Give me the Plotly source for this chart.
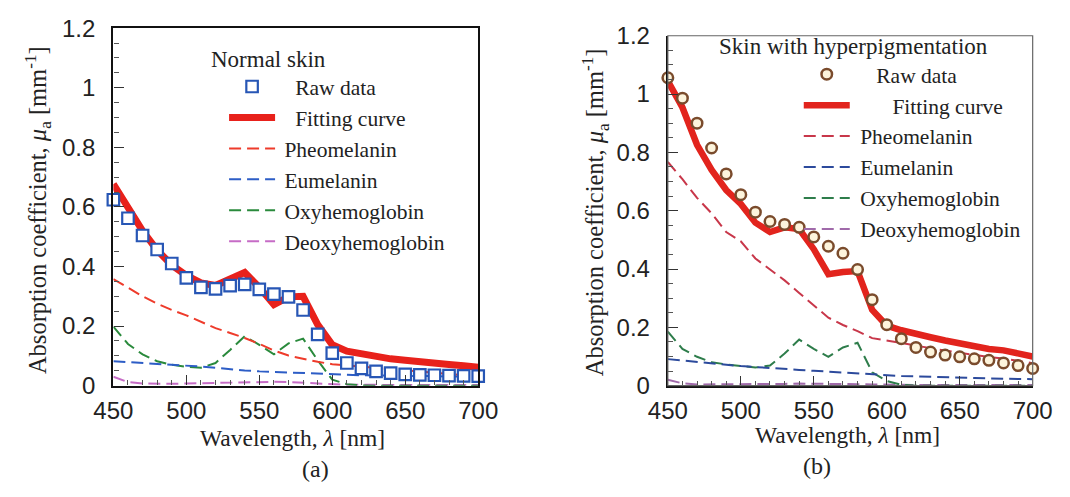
import plotly.graph_objects as go

# ---------------- data ----------------
wavelength = [450, 460, 470, 480, 490, 500, 510, 520, 530, 540, 550, 560, 570,
              580, 590, 600, 610, 620, 630, 640, 650, 660, 670, 680, 690, 700]

# (a) Normal skin
a_raw = [0.624, 0.562, 0.504, 0.457, 0.410, 0.362, 0.330, 0.325, 0.336, 0.340, 0.323, 0.307, 0.298,
         0.254, 0.172, 0.109, 0.076, 0.058, 0.048, 0.042, 0.038, 0.036, 0.035, 0.034, 0.033, 0.032]
a_fit = [0.677, 0.600, 0.520, 0.455, 0.405, 0.370, 0.345, 0.336, 0.360, 0.380, 0.330, 0.272, 0.298,
         0.300, 0.205, 0.137, 0.116, 0.106, 0.098, 0.090, 0.085, 0.079, 0.074, 0.071, 0.067, 0.062]
a_pheo = [0.358, 0.330, 0.300, 0.275, 0.254, 0.236, 0.214, 0.193, 0.177, 0.160, 0.140, 0.118, 0.101,
          0.090, 0.080, 0.072, 0.068, 0.063, 0.059, 0.055, 0.051, 0.047, 0.043, 0.039, 0.035, 0.031]
a_eu = [0.082, 0.079, 0.076, 0.074, 0.071, 0.069, 0.064, 0.060, 0.055, 0.051, 0.048, 0.046, 0.043,
        0.041, 0.039, 0.037, 0.036, 0.035, 0.034, 0.034, 0.033, 0.032, 0.032, 0.031, 0.031, 0.030]
a_oxy = [0.198, 0.140, 0.105, 0.082, 0.070, 0.063, 0.060, 0.076, 0.120, 0.166, 0.137, 0.105, 0.142,
         0.158, 0.085, 0.020, 0.005, 0.001, 0.0, 0.0, 0.0, 0.0, 0.0, 0.0, 0.0, 0.0]
a_deoxy = [0.030, 0.012, 0.007, 0.006, 0.006, 0.007, 0.008, 0.009, 0.011, 0.013, 0.014, 0.013, 0.012,
           0.010, 0.006, 0.004, 0.003, 0.003, 0.002, 0.002, 0.002, 0.002, 0.002, 0.002, 0.002, 0.002]

# (b) Skin with hyperpigmentation
b_raw = [1.056, 0.986, 0.900, 0.815, 0.726, 0.655, 0.595, 0.563, 0.553, 0.543, 0.510, 0.478, 0.454,
         0.398, 0.295, 0.209, 0.161, 0.131, 0.115, 0.105, 0.099, 0.092, 0.087, 0.078, 0.069, 0.059]
b_fit = [1.045, 0.954, 0.826, 0.740, 0.671, 0.623, 0.559, 0.527, 0.543, 0.537, 0.468, 0.382, 0.390,
         0.393, 0.260, 0.206, 0.190, 0.176, 0.166, 0.155, 0.144, 0.134, 0.126, 0.121, 0.110, 0.100]
b_pheo = [0.767, 0.708, 0.644, 0.591, 0.527, 0.495, 0.436, 0.398, 0.361, 0.318, 0.276, 0.233, 0.208,
          0.187, 0.163, 0.155, 0.148, 0.138, 0.128, 0.120, 0.113, 0.105, 0.098, 0.093, 0.085, 0.077]
b_eu = [0.091, 0.086, 0.081, 0.076, 0.071, 0.067, 0.064, 0.060, 0.057, 0.054, 0.051, 0.048, 0.044,
        0.041, 0.038, 0.035, 0.033, 0.032, 0.030, 0.029, 0.027, 0.026, 0.025, 0.024, 0.023, 0.022]
b_oxy = [0.185, 0.126, 0.099, 0.080, 0.073, 0.067, 0.062, 0.069, 0.110, 0.158, 0.126, 0.099, 0.131,
         0.147, 0.046, 0.016, 0.003, 0.0, 0.0, 0.0, 0.0, 0.0, 0.0, 0.0, 0.0, 0.0]
b_deoxy = [0.020, 0.008, 0.004, 0.004, 0.004, 0.004, 0.005, 0.006, 0.006, 0.007, 0.007, 0.007, 0.006,
           0.005, 0.004, 0.003, 0.002, 0.002, 0.002, 0.002, 0.002, 0.002, 0.002, 0.002, 0.002, 0.002]

x_ticks = [450, 500, 550, 600, 650, 700]
y_ticks = [0, 0.2, 0.4, 0.6, 0.8, 1.0, 1.2]

SERIF = "Liberation Serif"
SANS = "Liberation Sans"
NB = "\u00a0"
TH = "\u2009"
DASH = "12px,6px"

fig = go.Figure()

def add_panel(xa, ya, leg, raw, fit, pheo, eu, oxy, deoxy, raw_marker, fit_color, colors,
              pre, pre_raw, pre_fit, fit_w):
    fig.add_trace(go.Scatter(x=wavelength, y=deoxy, mode="lines", name=pre + "Deoxyhemoglobin",
                             line=dict(color=colors[3], width=2, dash=DASH),
                             xaxis=xa, yaxis=ya, legend=leg, legendrank=6, cliponaxis=False))
    fig.add_trace(go.Scatter(x=wavelength, y=oxy, mode="lines", name=pre + "Oxyhemoglobin",
                             line=dict(color=colors[2], width=2, dash=DASH),
                             xaxis=xa, yaxis=ya, legend=leg, legendrank=5, cliponaxis=False))
    fig.add_trace(go.Scatter(x=wavelength, y=eu, mode="lines", name=pre + "Eumelanin",
                             line=dict(color=colors[1], width=2, dash=DASH),
                             xaxis=xa, yaxis=ya, legend=leg, legendrank=4, cliponaxis=False))
    fig.add_trace(go.Scatter(x=wavelength, y=pheo, mode="lines", name=pre + "Pheomelanin",
                             line=dict(color=colors[0], width=2, dash=DASH),
                             xaxis=xa, yaxis=ya, legend=leg, legendrank=3, cliponaxis=False))
    fig.add_trace(go.Scatter(x=wavelength, y=fit, mode="lines", name=pre_fit + "Fitting curve",
                             line=dict(color=fit_color, width=fit_w),
                             xaxis=xa, yaxis=ya, legend=leg, legendrank=2, cliponaxis=False))
    fig.add_trace(go.Scatter(x=wavelength, y=raw, mode="markers", name=pre_raw + "Raw data",
                             marker=raw_marker,
                             xaxis=xa, yaxis=ya, legend=leg, legendrank=1, cliponaxis=False))

add_panel("x", "y", "legend", a_raw, a_fit, a_pheo, a_eu, a_oxy, a_deoxy,
          dict(symbol="square", size=11.5, color="white", line=dict(color="#2756b5", width=2.2)),
          "#e8211b", ["#ee3b2b", "#2d5dc6", "#2a8a3c", "#c66cc6"],
          TH, TH + NB * 2, TH + NB * 2, 7)
add_panel("x2", "y2", "legend2", b_raw, b_fit, b_pheo, b_eu, b_oxy, b_deoxy,
          dict(symbol="circle", size=10.5, color="#fdf4dc", line=dict(color="#7a4b2c", width=2.5)),
          "#e2241d", ["#c8374a", "#2c4a9c", "#2e7d4b", "#a06aaa"],
          NB, NB * 4, NB * 7, 6.5)

def axis_common(domain, anchor, is_x, mirror, lw):
    d = dict(domain=domain, anchor=anchor, showgrid=False, zeroline=False,
             showline=True, linecolor="#111", linewidth=lw, mirror=mirror,
             ticks="inside", ticklen=10, tickwidth=1.3, tickcolor="#333",
             tickfont=dict(family=SANS, size=24, color="#222"))
    if is_x:
        d.update(range=[450, 700], tickvals=x_ticks, ticklabelstandoff=2,
                 minor=dict(dtick=10, ticks="inside", ticklen=5, tickcolor="#555", tickwidth=1))
    else:
        d.update(range=[0, 1.2], tickvals=y_ticks, ticklabelstandoff=11,
                 minor=dict(dtick=0.05, ticks="inside", ticklen=5, tickcolor="#555", tickwidth=1))
    return d

H = 497.0
W = 1070.0
fig.update_layout(
    width=1070, height=497,
    margin=dict(l=0, r=0, t=0, b=0),
    paper_bgcolor="white", plot_bgcolor="white",
    xaxis=axis_common([97 / W, 476 / W], "y", True, True, 2.4),
    yaxis=axis_common([(H - 393) / H, (H - 15) / H], "x", False, True, 2.4),
    xaxis2=axis_common([673 / W, 1052 / W], "y2", True, False, 2.2),
    yaxis2=axis_common([(H - 393) / H, (H - 23) / H], "x2", False, False, 2.2),
    legend=dict(x=212 / W, y=(H - 55) / H, xanchor="left", yanchor="top",
                font=dict(family=SERIF, size=21.5, color="#222"), itemwidth=46,
                bgcolor="rgba(0,0,0,0)", traceorder="normal", tracegroupgap=0),
    legend2=dict(x=809 / W, y=(H - 42) / H, xanchor="left", yanchor="top",
                 font=dict(family=SERIF, size=21.5, color="#222"), itemwidth=46,
                 bgcolor="rgba(0,0,0,0)", traceorder="normal", tracegroupgap=0),
    showlegend=True,
    shapes=[dict(type="rect", xref="x2 domain", yref="y2 domain", x0=0, x1=1, y0=0, y1=1,
                 line=dict(color="#666", width=1.2), layer="above")],
)

ann_font = dict(family=SERIF, size=23, color="#222")
annotations = [
    dict(text="Normal skin", x=258 / W, y=(H - 48) / H, font=ann_font),
    dict(text="Skin with hyperpigmentation", x=866 / W, y=(H - 34.5) / H, font=ann_font),
    dict(text="Wavelength, <i>λ</i> [nm]", x=283 / W, y=(H - 448) / H,
         font=dict(family=SERIF, size=23.5, color="#222")),
    dict(text="Wavelength, <i>λ</i> [nm]", x=860 / W, y=(H - 445) / H,
         font=dict(family=SERIF, size=23.5, color="#222")),
    dict(text="(a)", x=307 / W, y=(H - 481) / H, font=dict(family=SERIF, size=24, color="#222")),
    dict(text="(b)", x=828 / W, y=(H - 478) / H, font=dict(family=SERIF, size=24, color="#222")),
    dict(text="Absorption coefficient, <i>μ</i><sub>a</sub> [mm<sup>-1</sup>]", x=18 / W, y=(H - 207) / H,
         textangle=-90, font=dict(family=SERIF, size=24.5, color="#222")),
    dict(text="Absorption coefficient, <i>μ</i><sub>a</sub> [mm<sup>-1</sup>]", x=597 / W, y=(H - 210) / H,
         textangle=-90, font=dict(family=SERIF, size=24.5, color="#222")),
]
for a in annotations:
    a.update(xref="paper", yref="paper", xanchor="center", yanchor="middle", showarrow=False)
fig.update_layout(annotations=annotations)

fig.write_html("out.html")
